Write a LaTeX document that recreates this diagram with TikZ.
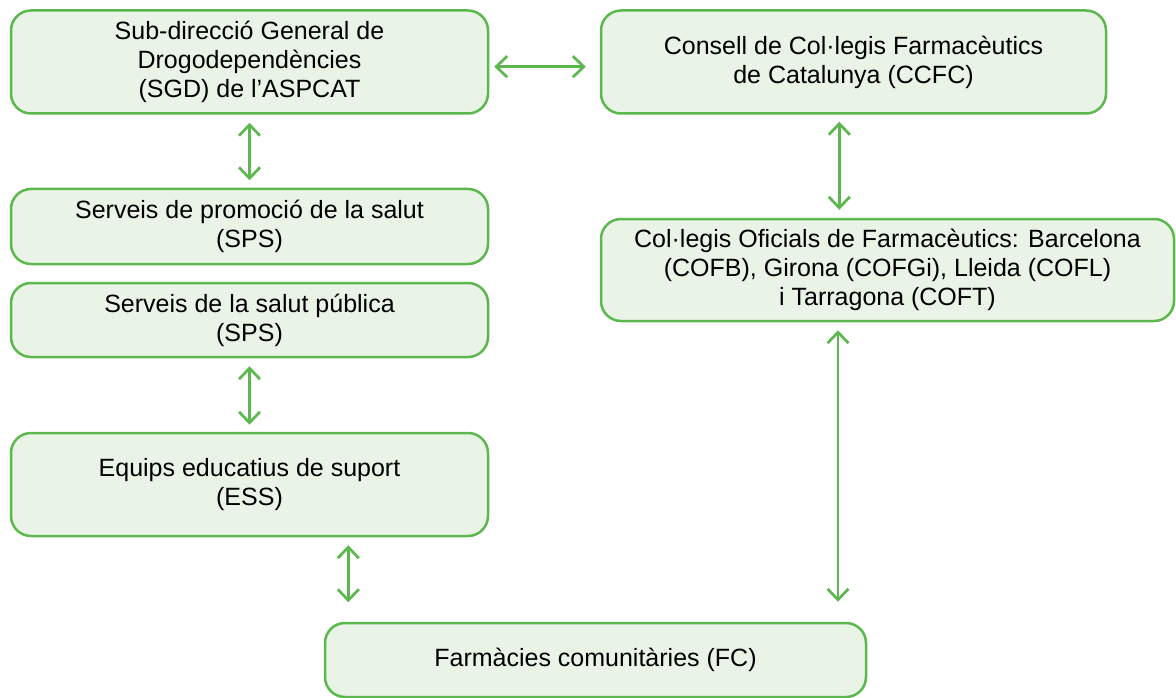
\documentclass[tikz,border=0pt]{standalone}
\usepackage{fontspec}
\setmainfont{Liberation Sans}
\usetikzlibrary{arrows.meta,positioning}
\definecolor{boxgreen}{RGB}{92,184,78}
\definecolor{boxfill}{RGB}{234,244,230}

\begin{document}
\begin{tikzpicture}[x=1pt,y=-1pt,
    box/.style={draw=boxgreen,fill=boxfill,line width=2.5pt,rounded corners=20pt,
      align=center,inner sep=0pt,font=\fontsize{25}{29}\selectfont},
    link/.style={draw=boxgreen,line width=2.7pt,
      {Straight Barb[length=11pt,width=21pt]}-{Straight Barb[length=11pt,width=21pt]}}]
      \useasboundingbox (0,0) rectangle (1176,698);
      \node[box,minimum width=477pt,minimum height=103pt] (sgd) at (249.5,62)
        {Sub-direcció General de\\Drogodependències\\(SGD) de l’ASPCAT};
      \node[box,minimum width=505pt,minimum height=103pt] (ccfc) at (853.5,62)
        {Consell de Col·legis Farmacèutics\\de Catalunya (CCFC)};
      \node[box,minimum width=477pt,minimum height=75pt] (promo) at (249.5,226.5)
        {Serveis de promoció de la salut\\(SPS)};
      \node[box,minimum width=477pt,minimum height=74pt] (salut) at (249.5,320)
        {Serveis de la salut pública\\(SPS)};
      \node[box,minimum width=573pt,minimum height=102pt] (cof) at (887.5,270)
        {Col·legis Oficials de Farmacèutics: Barcelona\\(COFB), Girona (COFGi), Lleida (COFL)\\i Tarragona (COFT)};
      \node[box,minimum width=477pt,minimum height=103pt] (ess) at (249.5,484.5)
        {Equips educatius de suport\\(ESS)};
      \node[box,minimum width=541pt,minimum height=74pt] (fc) at (595.5,660)
        {Farmàcies comunitàries (FC)};
      \draw[link,shorten <=5pt,shorten >=14pt] ([yshift=-4.7pt]sgd.east) -- ([yshift=-4.7pt]sgd.east -| ccfc.west);
      \draw[link,shorten <=8pt,shorten >=7.5pt] (sgd.south) -- (promo.north);
      \draw[link,shorten <=8pt,shorten >=7pt] (salut.south) -- (ess.north);
      \draw[link,shorten <=8pt,shorten >=19.5pt] ([xshift=98.8pt]ess.south) -- ([xshift=98.8pt]ess.south |- fc.north);
      \draw[link,shorten <=7pt,shorten >=8pt] ([xshift=-14.2pt]ccfc.south) -- ([xshift=-14.2pt]ccfc.south |- cof.north);
      \draw[link,shorten <=8pt,shorten >=20pt] ([xshift=-49.5pt]cof.south) -- ([xshift=-49.5pt]cof.south |- fc.north);
\end{tikzpicture}
\end{document}
